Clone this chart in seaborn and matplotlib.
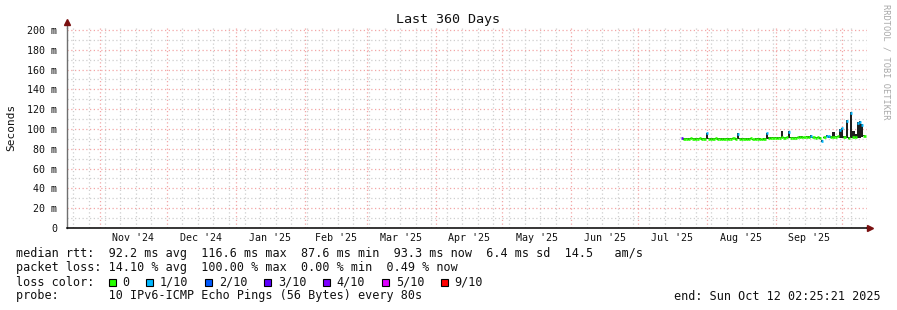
import numpy as np
import pandas as pd
import matplotlib
matplotlib.use("Agg")
import matplotlib.pyplot as plt
import matplotlib.dates as mdates
import matplotlib.transforms as mtransforms
from matplotlib.patches import Rectangle
import seaborn as sns

sns.set_theme(style="white")
plt.rcParams['font.family'] = ['DejaVu Sans Mono', 'DejaVu Sans']

# ---------------- data ----------------
title = "Last 360 Days"
end_label = "end: Sun Oct 12 02:25:21 2025"
end_time = "2025-10-12 02:25:21"
span_days = 360
first_day = "2025-07-21"

median_ms = [
    # Jul 21-31
    90.6, 90.0, 90.3, 89.8, 90.5, 90.1, 89.7, 90.2, 90.4, 89.9, 90.3,
    # Aug
    95.5, 90.2, 89.8, 90.0, 90.5, 89.9, 90.1, 89.6, 90.0, 90.3, 89.8, 90.2, 90.6, 90.0, 95.0, 90.1,
    89.9, 90.3, 89.7, 90.0, 90.4, 89.5, 89.8, 90.2, 90.0, 89.4, 89.8, 95.5, 90.9, 91.0, 91.2,
    # Sep
    91.4, 91.0, 91.3, 91.5, 91.2, 91.5, 97.0, 91.3, 91.1, 91.4, 91.6, 91.9, 92.1, 91.5, 92.2,
    91.8, 93.0, 91.6, 91.4, 91.6, 91.0, 87.6, 91.5, 93.0, 92.8, 91.8, 92.0, 92.3, 92.5, 99.0,
    # Oct 1-11
    100.5, 91.5, 108.0, 91.0, 116.6, 92.0, 91.5, 106.0, 107.5, 104.5, 93.3,
]
smoke_hi_ms = [
    91.3, 90.8, 91.1, 90.6, 91.3, 90.9, 90.5, 91.0, 91.2, 90.7, 91.1,
    96.0, 91.0, 90.6, 90.8, 91.3, 90.7, 90.9, 90.4, 90.8, 91.1, 90.6, 91.0, 91.4, 90.8, 95.5, 90.9,
    90.7, 91.1, 90.5, 90.8, 91.2, 90.3, 90.6, 91.0, 90.8, 90.2, 90.6, 96.0, 91.7, 91.8, 92.0,
    92.2, 91.8, 92.1, 97.5, 92.0, 92.3, 97.5, 92.1, 91.9, 92.2, 92.4, 92.7, 92.9, 92.3, 93.0,
    92.6, 93.6, 92.4, 92.2, 92.4, 91.8, 88.4, 92.3, 93.6, 93.4, 92.6, 97.0, 93.1, 93.3, 99.6,
    101.1, 93.0, 108.6, 91.8, 117.2, 98.0, 95.0, 106.6, 108.1, 105.1, 94.0,
]
smoke_lo_ms = [
    89.9, 89.3, 89.6, 89.1, 89.8, 89.4, 89.0, 89.5, 89.7, 89.2, 89.6,
    89.8, 89.5, 89.1, 89.3, 89.8, 89.2, 89.4, 88.9, 89.3, 89.6, 89.1, 89.5, 89.9, 89.3, 89.5, 89.4,
    89.2, 89.6, 89.0, 89.3, 89.7, 88.8, 89.1, 89.5, 89.3, 88.7, 89.1, 89.6, 90.2, 90.3, 90.5,
    90.7, 90.3, 90.6, 90.8, 90.5, 90.8, 90.8, 90.6, 90.4, 90.7, 90.9, 91.2, 91.4, 90.8, 91.5,
    91.1, 91.2, 90.9, 90.7, 90.9, 90.3, 86.9, 90.8, 91.5, 91.4, 91.1, 91.3, 91.6, 91.8, 91.0,
    91.0, 90.8, 91.0, 90.3, 91.0, 91.3, 90.8, 91.0, 91.0, 91.5, 92.6,
]
# loss bucket index per day (0 -> "0", 1 -> "1/10", 3 -> "3/10", ...)
loss_bucket = [
    3, 0, 0, 0, 0, 0, 0, 0, 0, 0, 0,
    1, 0, 0, 0, 0, 0, 0, 0, 0, 0, 0, 0, 0, 0, 1, 0,
    0, 0, 0, 0, 0, 0, 0, 0, 0, 0, 0, 1, 0, 0, 0,
    0, 0, 0, 0, 0, 0, 1, 0, 0, 0, 0, 0, 0, 0, 0,
    0, 1, 0, 0, 0, 0, 1, 0, 1, 1, 0, 0, 0, 0, 1,
    1, 0, 1, 0, 1, 0, 0, 1, 1, 1, 0,
]

loss_labels = ["0", "1/10", "2/10", "3/10", "4/10", "5/10", "9/10"]
loss_colors = ["#26ff00", "#00b8ff", "#0059ff", "#5e00ff", "#7e00ff", "#dd00ff", "#ff0000"]

y_ticks = [0, 20, 40, 60, 80, 100, 120, 140, 160, 180, 200]
y_tick_labels = ["0", "20 m", "40 m", "60 m", "80 m", "100 m", "120 m",
                 "140 m", "160 m", "180 m", "200 m"]
month_starts = ["2024-11-01", "2024-12-01", "2025-01-01", "2025-02-01", "2025-03-01",
                "2025-04-01", "2025-05-01", "2025-06-01", "2025-07-01", "2025-08-01",
                "2025-09-01", "2025-10-01"]
month_labels = ["Nov '24", "Dec '24", "Jan '25", "Feb '25", "Mar '25", "Apr '25",
                "May '25", "Jun '25", "Jul '25", "Aug '25", "Sep '25"]

row_rtt = "median rtt:  92.2 ms avg  116.6 ms max  87.6 ms min  93.3 ms now  6.4 ms sd  14.5   am/s"
row_loss = "packet loss: 14.10 % avg  100.00 % max  0.00 % min  0.49 % now"
row_color = "loss color:"
row_probe = "probe:       10 IPv6-ICMP Echo Pings (56 Bytes) every 80s"
credit = "RRDTOOL / TOBI OETIKER"

# ---------------- figure ----------------
W, H = 897, 310
fig = plt.figure(figsize=(W / 100, H / 100), dpi=100)
fig.patch.set_facecolor("white")
ax = fig.add_axes([67 / W, (H - 228) / H, 800 / W, 200 / H])
ax.set_facecolor("white")

t_end = pd.Timestamp(end_time)
t_start = t_end - pd.Timedelta(days=span_days)

dates = pd.date_range(first_day, periods=len(median_ms), freq="D")
df = pd.DataFrame({"date": dates, "median": median_ms, "hi": smoke_hi_ms,
                   "lo": smoke_lo_ms, "loss": loss_bucket})

# smoke
ax.fill_between(df["date"], df["lo"], df["hi"], step="mid", color="#1e1e1e",
                lw=0, zorder=3)

# median: one short horizontal step per day, coloured by loss bucket
half = pd.Timedelta(hours=12)
seg = pd.DataFrame({
    "t": list(df["date"] - half) + list(df["date"] + half),
    "v": list(df["median"]) * 2,
    "day": list(range(len(df))) * 2,
    "lossc": [loss_labels[b] for b in df["loss"]] * 2,
})
sns.lineplot(data=seg, x="t", y="v", units="day", estimator=None, hue="lossc",
             palette=dict(zip(loss_labels, loss_colors)), lw=1.9, legend=False,
             ax=ax, zorder=4, solid_capstyle="butt")

ax.set_xlim(t_start, t_end)
ax.set_ylim(0, 202)
ax.set_xlabel("")
ax.set_ylabel("")

# grid
grid_red = "#f2a6a6"
grid_gray = "#cfcfcf"
dots = (0, (1, 2))
ax.set_xticks(pd.to_datetime(month_starts))
ax.xaxis.set_minor_locator(mdates.WeekdayLocator(byweekday=mdates.SU))
ax.set_yticks(y_ticks)
ax.set_yticklabels(y_tick_labels)
ax.set_yticks(np.arange(10, 201, 20), minor=True)
ax.grid(which="major", axis="both", color=grid_red, linestyle=dots, lw=0.9)
ax.grid(which="minor", axis="both", color=grid_gray, linestyle=dots, lw=0.9)
ax.set_axisbelow(True)
ax.tick_params(axis="x", which="both", labelbottom=False, length=0)
ax.tick_params(axis="y", which="major", labelsize=7.2, length=3, width=0.8,
               color="#909090", pad=4, labelcolor="#111111")
ax.tick_params(axis="y", which="minor", length=2, width=0.8, color="#909090")

for s in ["top", "right"]:
    ax.spines[s].set_visible(False)
ax.spines["left"].set_color("#707070")
ax.spines["left"].set_linewidth(1)
ax.spines["bottom"].set_color("black")
ax.spines["bottom"].set_linewidth(1.1)

# axis extensions with arrows
ax.plot([0, 0], [1.0, 1.03], transform=ax.transAxes, color="#707070", lw=1, clip_on=False)
ax.plot([0], [1.03], marker="^", ms=4.5, color="#7a1010", transform=ax.transAxes,
        clip_on=False, zorder=10)
ax.plot([1.0, 1.004], [0, 0], transform=ax.transAxes, color="black", lw=1.1, clip_on=False)
ax.plot([1.004], [0], marker=">", ms=4.5, color="#7a1010", transform=ax.transAxes,
        clip_on=False, zorder=10)

# month labels at mid-month
trans = mtransforms.blended_transform_factory(ax.transData, fig.transFigure)
ms_ts = pd.to_datetime(month_starts)
for i, lab in enumerate(month_labels):
    mid = ms_ts[i] + (ms_ts[i + 1] - ms_ts[i]) / 2
    ax.text(mdates.date2num(mid), 1 - 238 / H, lab, transform=trans, ha="center",
            va="center", fontsize=7.2, color="#111111")

# titles / labels
fig.text(448 / W, 1 - 19 / H, title, ha="center", va="center", fontsize=9.6, color="#111111")
fig.text(11 / W, 1 - 127 / H, "Seconds", rotation=90, ha="center", va="center",
         fontsize=8, color="#111111")
fig.text(886 / W, 1 - 4 / H, credit, rotation=270, ha="center", va="top",
         fontsize=6.2, color="#a8a8a8")

# legend rows
fs = 8.5
fig.text(16 / W, 1 - 254 / H, row_rtt, ha="left", va="center", fontsize=fs, color="#111111")
fig.text(16 / W, 1 - 268 / H, row_loss, ha="left", va="center", fontsize=fs, color="#111111")
fig.text(16 / W, 1 - 282 / H, row_color, ha="left", va="center", fontsize=fs, color="#111111")
fig.text(16 / W, 1 - 296 / H, row_probe, ha="left", va="center", fontsize=fs, color="#111111")
fig.text(881 / W, 1 - 296 / H, end_label, ha="right", va="center", fontsize=fs, color="#111111")

xb = 108.5
for lab, col in zip(loss_labels, loss_colors):
    fig.add_artist(Rectangle((xb / W, 1 - 286 / H), 7 / W, 7 / H, transform=fig.transFigure,
                             facecolor=col, edgecolor="black", lw=0.8))
    fig.text((xb + 14) / W, 1 - 282 / H, lab, ha="left", va="center", fontsize=fs,
             color="#111111")
    xb = xb + 14 + len(lab) * 7.1 + 16.5

fig.savefig("out.png", dpi=100)
